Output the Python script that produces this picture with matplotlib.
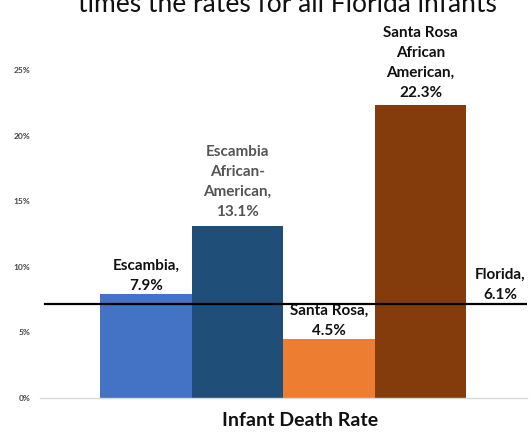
import matplotlib
matplotlib.use('Agg')
import matplotlib.pyplot as plt

plt.rcParams['font.family'] = ['Lato', 'DejaVu Sans']

# data
categories = ['Escambia', 'Escambia African-American', 'Santa Rosa', 'Santa Rosa African American']
rates = [7.9, 13.1, 4.5, 22.3]
labels = ['Escambia,\n7.9%', 'Escambia\nAfrican-\nAmerican,\n13.1%',
          'Santa Rosa,\n4.5%', 'Santa Rosa\nAfrican\nAmerican,\n22.3%']
label_colors = ['#111111', '#555555', '#111111', '#111111']
bar_colors = ['#4472C4', '#1F4E79', '#ED7D31', '#843C0C']
florida_label = 'Florida,\n6.1%'
florida_line = 7.2   # where the reference line is drawn
yticks = [0, 5, 10, 15, 20, 25]

fig = plt.figure(figsize=(5.30, 4.32), dpi=100)
ax = fig.add_axes([40 / 530, 34 / 432, 487 / 530, 328 / 432])

x = list(range(len(rates)))
ax.bar(x, rates, width=1.0, color=bar_colors, edgecolor='none', zorder=2)

ax.set_xlim(-1.158, -1.158 + 487 / 91.5)
ax.set_ylim(0, 25)
ax.set_yticks(yticks)
ax.set_yticklabels(['{}%'.format(t) for t in yticks], fontsize=6,
                   color='#444444', fontweight='bold')
ax.tick_params(axis='y', length=0, pad=7)
ax.set_xticks([])
for s in ['top', 'right', 'left']:
    ax.spines[s].set_visible(False)
ax.spines['bottom'].set_color('#d9d9d9')
ax.spines['bottom'].set_linewidth(1.0)

# data labels
offsets = [1, 5, 1, 4]
for xi, r, lab, c, off in zip(x, rates, labels, label_colors, offsets):
    ax.annotate(lab, (xi, r), xytext=(0, off), textcoords='offset points',
                ha='center', va='bottom', fontsize=11, fontweight='bold',
                color=c, linespacing=1.55, annotation_clip=False)

# Florida reference line
ax.axhline(florida_line, xmin=5 / 487, xmax=1.0, color='black', lw=1.6, zorder=3)
ax.annotate(florida_label, (3.87, florida_line), xytext=(0, 1), textcoords='offset points',
            ha='center', va='bottom', fontsize=11, fontweight='bold',
            color='#111111', linespacing=1.55, annotation_clip=False)

fig.text(300 / 530, 3 / 432, 'Infant Death Rate', ha='center', va='bottom',
         fontsize=14, fontweight='bold', color='#111111')

# title, cut off at the top of the picture
fig.text(287 / 530, 1 - 12 / 432, 'times the rates for all Florida infants',
         ha='center', va='baseline', fontsize=19, color='#111111')

fig.savefig('out.png', dpi=100)
